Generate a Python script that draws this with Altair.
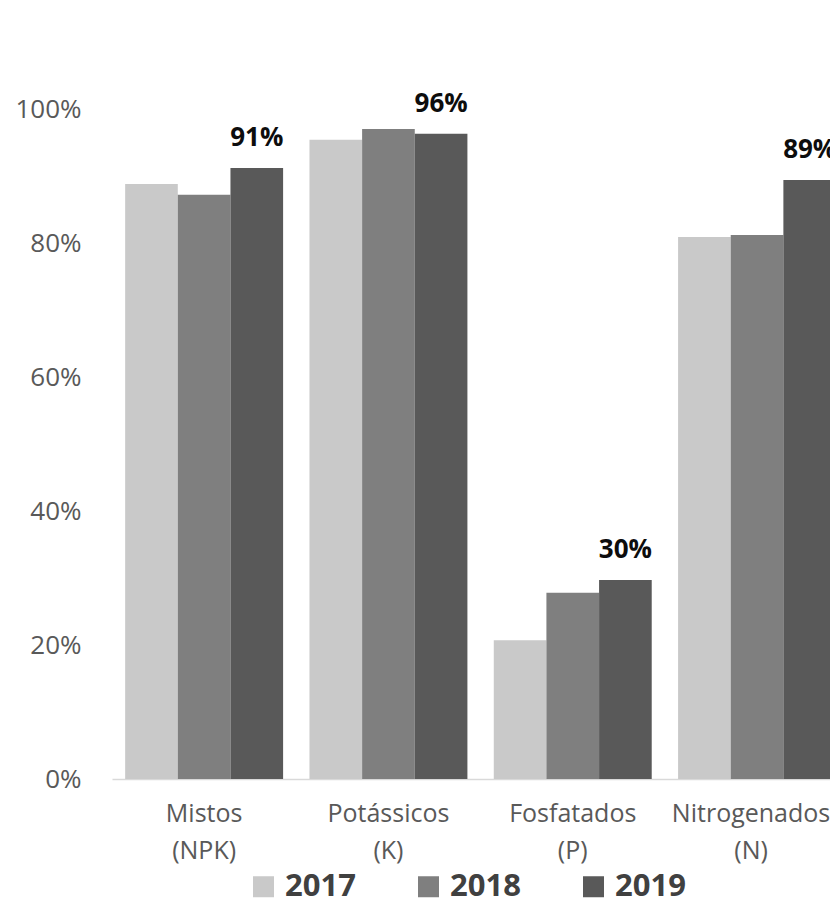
import altair as alt
import pandas as pd

categories = ["Mistos\n(NPK)", "Potássicos\n(K)", "Fosfatados\n(P)", "Nitrogenados\n(N)"]
years = ["2017", "2018", "2019"]
v2017 = [0.888, 0.954, 0.207, 0.809]
v2018 = [0.872, 0.970, 0.278, 0.812]
v2019 = [0.912, 0.963, 0.297, 0.894]
colors = ["#c9c9c9", "#7f7f7f", "#595959"]
y_ticks = [0, 0.2, 0.4, 0.6, 0.8, 1.0]

rows = []
for yr, vals in zip(years, [v2017, v2018, v2019]):
    for c, v in zip(categories, vals):
        rows.append({"cat": c, "year": yr, "value": v})
df = pd.DataFrame(rows)

FONT = "Open Sans"

x_enc = alt.X(
    "cat:N",
    sort=categories,
    scale=alt.Scale(paddingInner=0.143, paddingOuter=0.041, align=0.87),
    axis=alt.Axis(
        title=None,
        labelAngle=0,
        labelExpr="split(datum.label, '\\n')",
        labelFont=FONT,
        labelFontSize=25,
        labelColor="#595959",
        labelLineHeight=37,
        labelPadding=22,
        labelOffset={"condition": {"test": "indexof(datum.label, 'Nitro') == 0", "value": -6}, "value": 0},
        ticks=False,
        domainColor="#d9d9d9",
        domainWidth=1.5,
        grid=False,
    ),
)
xoff = alt.XOffset("year:N", sort=years, scale=alt.Scale(paddingInner=0, paddingOuter=0))
y_enc = alt.Y(
    "value:Q",
    scale=alt.Scale(domain=[0, 1], nice=False),
    axis=alt.Axis(
        title=None,
        values=y_ticks,
        format=".0%",
        labelFont=FONT,
        labelFontSize=26,
        labelColor="#595959",
        labelPadding=31,
        domain=False,
        ticks=False,
        grid=False,
    ),
)

bars = alt.Chart().mark_bar().encode(
    x=x_enc,
    xOffset=xoff,
    y=y_enc,
    color=alt.Color(
        "year:N",
        sort=years,
        scale=alt.Scale(domain=years, range=colors),
        legend=alt.Legend(
            title=None,
            orient="none",
            direction="horizontal",
            legendX=136,
            legendY=762,
            symbolType="square",
            symbolSize=441,
            symbolStrokeWidth=0,
            labelFont=FONT,
            labelFontSize=31,
            labelFontWeight="bold",
            labelColor="#404040",
            labelOffset=6,
            columnPadding=57,
        ),
    ),
)

text = alt.Chart().transform_filter(alt.datum.year == "2019").mark_text(
    font=FONT, fontSize=26, fontWeight="bold", color="#0d0d0d", baseline="middle", dy=-30
).encode(
    x=alt.X("cat:N", sort=categories),
    xOffset=alt.XOffset("year:N", sort=years),
    y=alt.Y("value:Q"),
    text=alt.Text("value:Q", format=".0%"),
)

chart = alt.layer(bars, text, data=df).properties(
    width=726,
    height=670,
    padding={"left": 104, "top": 101, "right": -8, "bottom": 127},
    autosize=alt.AutoSizeParams(type="none"),
).configure_view(stroke=None)

chart.save("out.html", embed_options={"renderer": "svg", "actions": False})
